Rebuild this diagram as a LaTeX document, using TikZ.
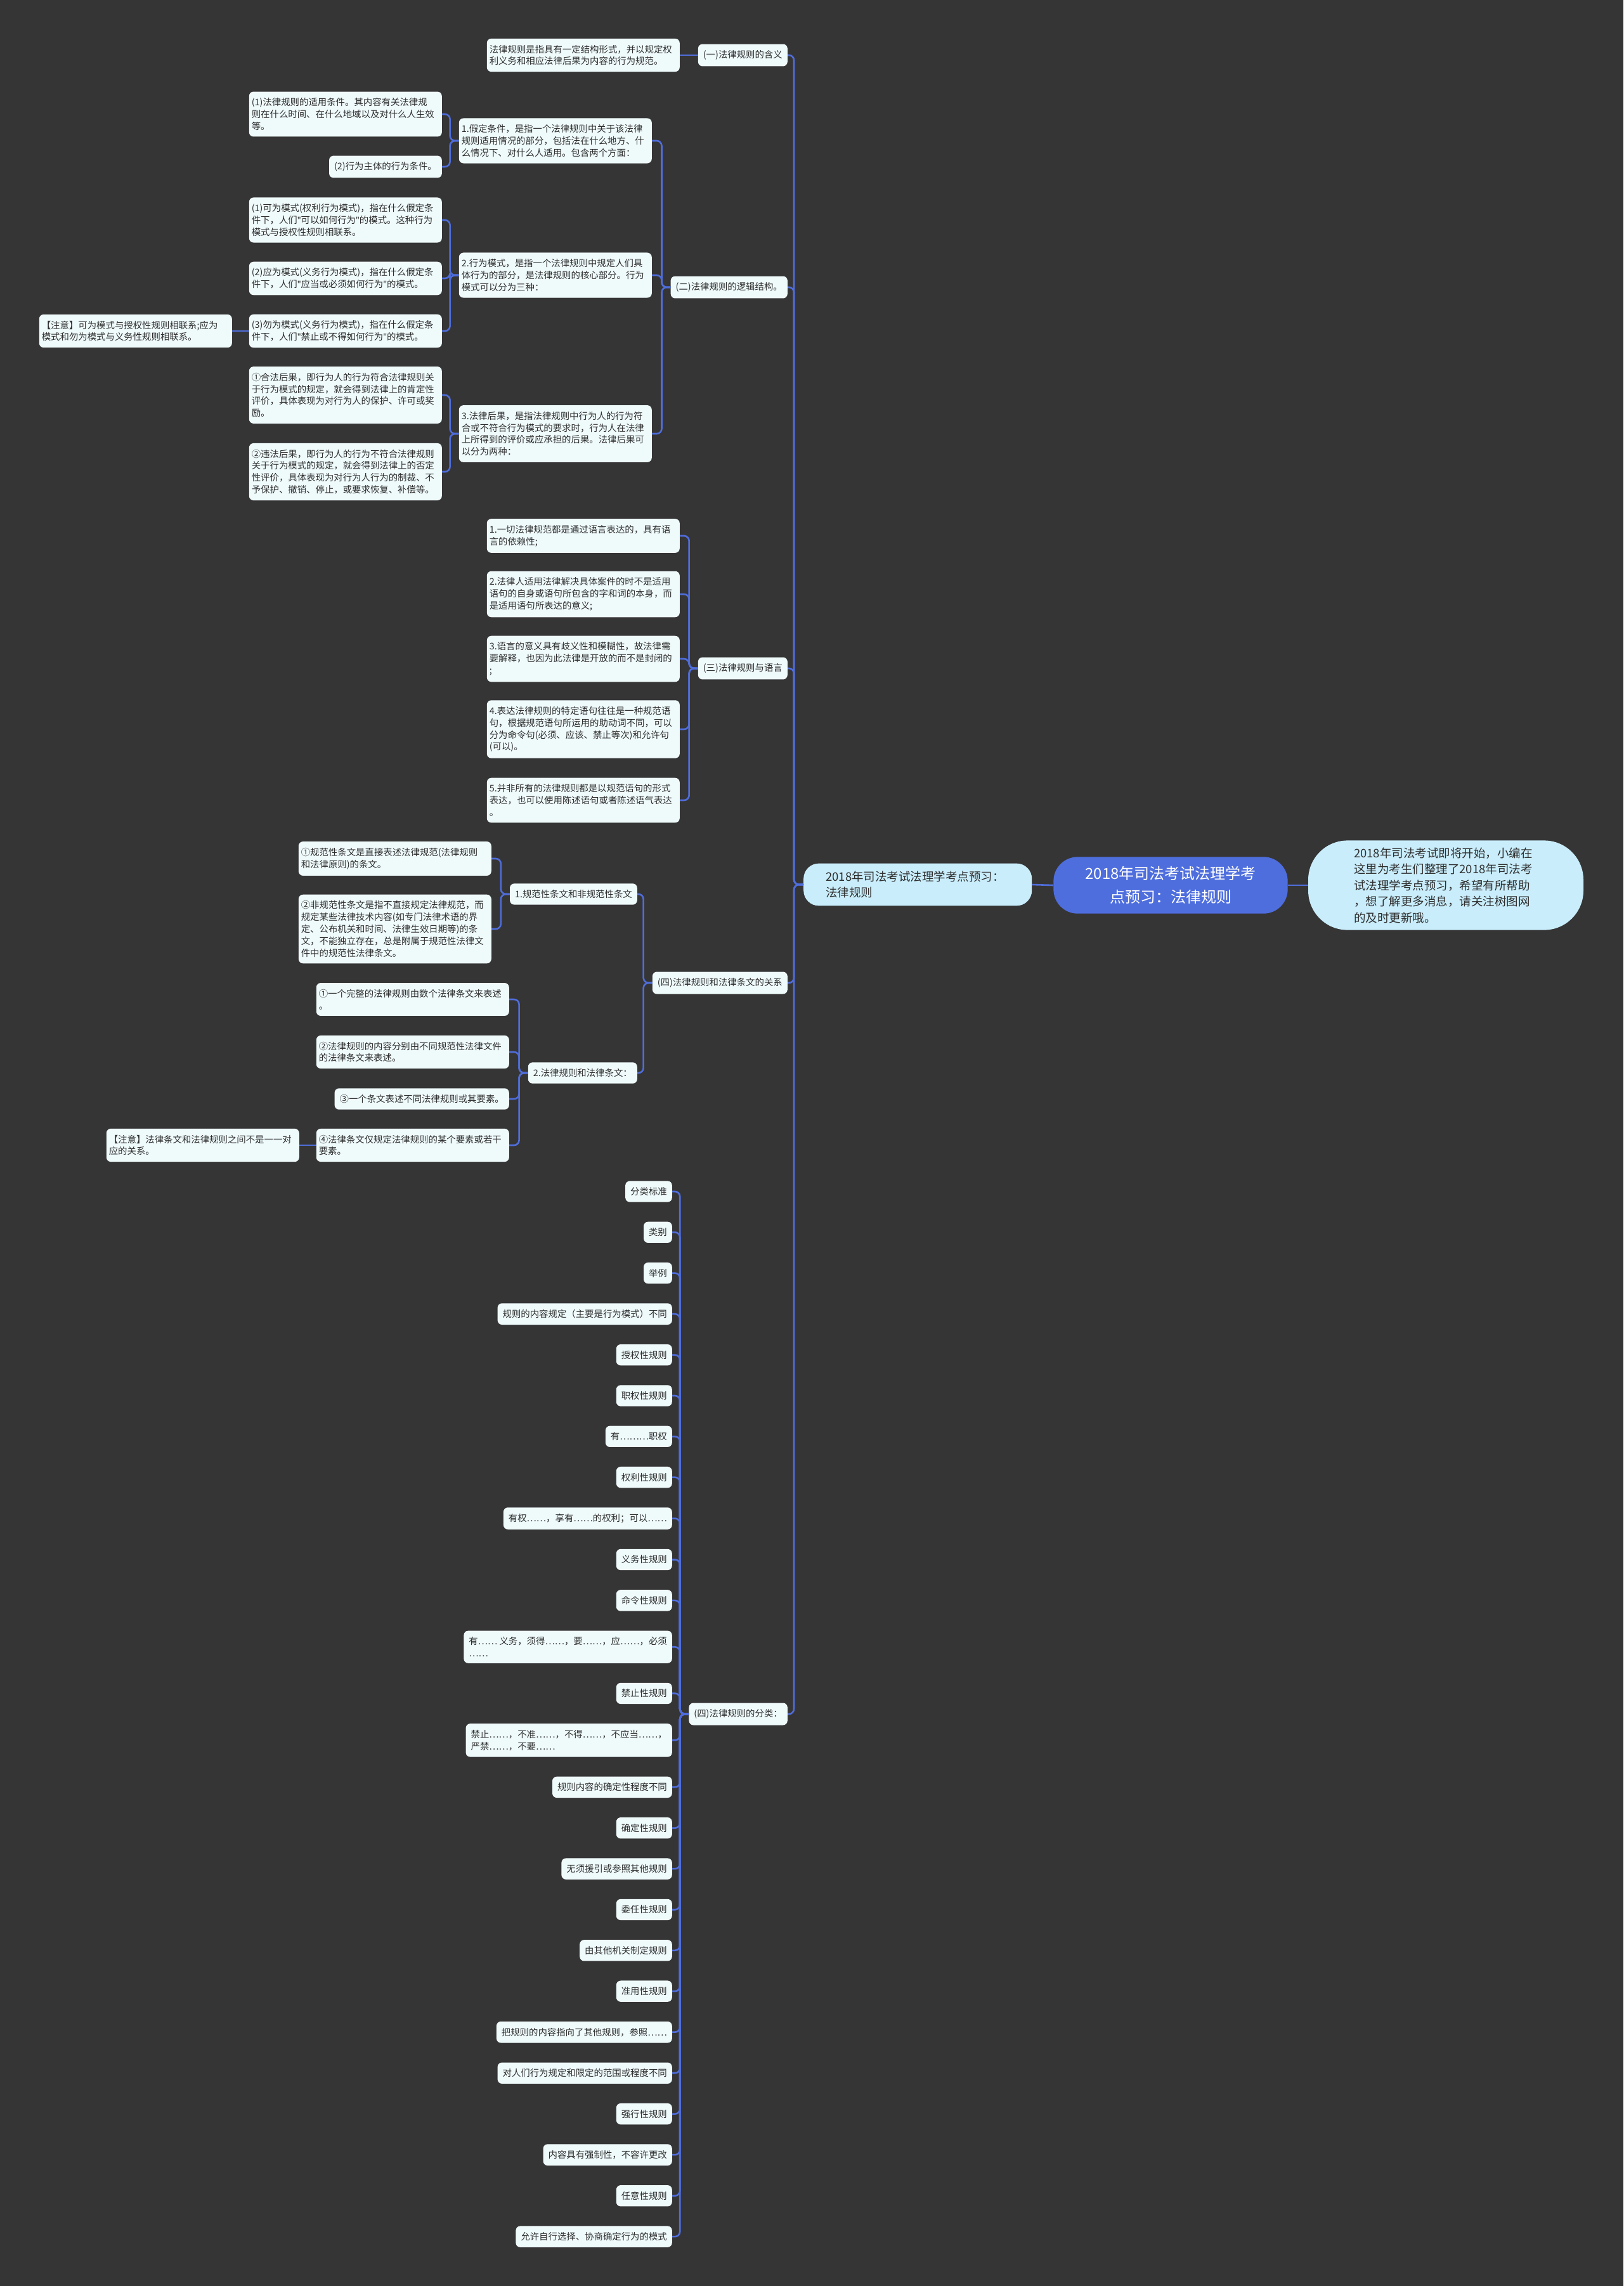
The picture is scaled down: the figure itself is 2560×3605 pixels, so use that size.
\documentclass[tikz,border=0pt]{standalone}
\usepackage{fontspec}
\setmainfont{Noto Sans CJK SC}
\newfontfamily\quotefont{Noto Sans}
\usetikzlibrary{positioning}
\definecolor{Board}{HTML}{363536}
\definecolor{Ice}{HTML}{EFFAFB}
\definecolor{Sky}{HTML}{C9EDFB}
\definecolor{Royal}{HTML}{4E6EDE}
\definecolor{Wire}{HTML}{4F6DDA}
\definecolor{Ink}{HTML}{2E2E2E}

\begin{document}
\begin{tikzpicture}[x=1pt, y=-1pt, node distance=30.6pt,
    leaf/.style={fill=Ice, text=Ink, rounded corners=7pt, inner xsep=8pt, inner ysep=10pt, align=left, font=\fontsize{14.4}{18.8}\selectfont},
    para/.style={leaf, text width=296pt, inner xsep=4pt},
    link/.style={draw=Wire, line width=2.6pt, rounded corners=8pt}]
    \fill[Board] (0,0) rectangle (2560,3605);

    \node[fill=Royal, text=white, rounded corners=38pt, align=center, inner xsep=50pt, inner ysep=15pt, font=\fontsize{24}{37}\selectfont] (root) at (1846,1396) {2018年司法考试法理学考\\点预习：法律规则};
    \node[fill=Sky, text=Ink, rounded corners=24pt, text width=290pt, align=left, inner xsep=35pt, inner ysep=12pt, font=\fontsize{18.5}{25.5}\selectfont, anchor=west] (sub) at (1267,1395) {2018年司法考试法理学考点预习：\\法律规则};
    \node[fill=Sky, text=Ink, rounded corners=62pt, text width=290pt, align=left, inner xsep=72pt, inner ysep=11pt, font=\fontsize{18.5}{25.5}\selectfont] (note) at (2280,1396) {2018年司法考试即将开始，小编在\\这里为考生们整理了2018年司法考\\试法理学考点预习，希望有所帮助\\，想了解更多消息，请关注树图网\\的及时更新哦。};

    \node[leaf, anchor=east] (def) at (1242,87) {(一)法律规则的含义};
    \node[leaf, anchor=east] (logic) at (1242,453) {(二)法律规则的逻辑结构。};
    \node[leaf, anchor=east] (lang) at (1242,1054) {(三)法律规则与语言};
    \node[leaf, anchor=east] (art) at (1242,1550) {(四)法律规则和法律条文的关系};
    \node[leaf, anchor=east] (kind) at (1242,2703) {(四)法律规则的分类：};

    \node[para, anchor=east] (def1) at (1072,87) {法律规则是指具有一定结构形式，并以规定权\\利义务和相应法律后果为内容的行为规范。};

    \node[para, anchor=east] (logic1) at (1028,222) {1.假定条件，是指一个法律规则中关于该法律\\规则适用情况的部分，包括法在什么地方、什\\么情况下、对什么人适用。包含两个方面：};
    \node[para, anchor=east] (logic1a) at (697,180) {(1)法律规则的适用条件。其内容有关法律规\\则在什么时间、在什么地域以及对什么人生效\\等。};
    \node[leaf, anchor=east] (logic1b) at (697,263) {(2)行为主体的行为条件。};
    \node[para, anchor=east] (logic2) at (1028,434) {2.行为模式，是指一个法律规则中规定人们具\\体行为的部分，是法律规则的核心部分。行为\\模式可以分为三种：};
    \node[para, anchor=east] (logic2a) at (697,347) {(1)可为模式(权利行为模式)，指在什么假定条\\件下，人们{\quotefont"}可以如何行为{\quotefont"}的模式。这种行为\\模式与授权性规则相联系。};
    \node[para, anchor=east] (logic2b) at (697,439) {(2)应为模式(义务行为模式)，指在什么假定条\\件下，人们{\quotefont"}应当或必须如何行为{\quotefont"}的模式。};
    \node[para, anchor=east] (logic2c) at (697,522) {(3)勿为模式(义务行为模式)，指在什么假定条\\件下，人们{\quotefont"}禁止或不得如何行为{\quotefont"}的模式。};
    \node[para, anchor=east] (logic2n) at (366,522) {【注意】可为模式与授权性规则相联系;应为\\模式和勿为模式与义务性规则相联系。};
    \node[para, anchor=east] (logic3) at (1028,684) {3.法律后果，是指法律规则中行为人的行为符\\合或不符合行为模式的要求时，行为人在法律\\上所得到的评价或应承担的后果。法律后果可\\以分为两种：};
    \node[para, anchor=east] (logic3a) at (697,623) {①合法后果，即行为人的行为符合法律规则关\\于行为模式的规定，就会得到法律上的肯定性\\评价，具体表现为对行为人的保护、许可或奖\\励。};
    \node[para, anchor=east] (logic3b) at (697,744) {②违法后果，即行为人的行为不符合法律规则\\关于行为模式的规定，就会得到法律上的否定\\性评价，具体表现为对行为人行为的制裁、不\\予保护、撤销、停止，或要求恢复、补偿等。};

    \node[para, anchor=east] (lang1) at (1072,845) {1.一切法律规范都是通过语言表达的，具有语\\言的依赖性;};
    \node[para, anchor=east] (lang2) at (1072,937) {2.法律人适用法律解决具体案件的时不是适用\\语句的自身或语句所包含的字和词的本身，而\\是适用语句所表达的意义;};
    \node[para, anchor=east] (lang3) at (1072,1039) {3.语言的意义具有歧义性和模糊性，故法律需\\要解释，也因为此法律是开放的而不是封闭的\\;};
    \node[para, anchor=east] (lang4) at (1072,1150) {4.表达法律规则的特定语句往往是一种规范语\\句，根据规范语句所运用的助动词不同，可以\\分为命令句(必须、应该、禁止等次)和允许句\\(可以)。};
    \node[para, anchor=east] (lang5) at (1072,1262) {5.并非所有的法律规则都是以规范语句的形式\\表达，也可以使用陈述语句或者陈述语气表达\\。};

    \node[leaf, anchor=east] (art1) at (1005,1410) {1.规范性条文和非规范性条文};
    \node[para, anchor=east] (art1a) at (775,1354) {①规范性条文是直接表述法律规范(法律规则\\和法律原则)的条文。};
    \node[para, anchor=east] (art1b) at (775,1465) {②非规范性条文是指不直接规定法律规范，而\\规定某些法律技术内容(如专门法律术语的界\\定、公布机关和时间、法律生效日期等)的条\\文，不能独立存在，总是附属于规范性法律文\\件中的规范性法律条文。};
    \node[leaf, anchor=east] (art2) at (1005,1692) {2.法律规则和法律条文：};
    \node[para, anchor=east] (art2a) at (803,1576) {①一个完整的法律规则由数个法律条文来表述\\。};
    \node[para, anchor=east] (art2b) at (803,1659) {②法律规则的内容分别由不同规范性法律文件\\的法律条文来表述。};
    \node[leaf, anchor=east] (art2c) at (803,1733) {③一个条文表述不同法律规则或其要素。};
    \node[para, anchor=east] (art2d) at (803,1806) {④法律条文仅规定法律规则的某个要素或若干\\要素。};
    \node[para, anchor=east] (art2n) at (472,1806) {【注意】法律条文和法律规则之间不是一一对\\应的关系。};

    \node[leaf, anchor=east] (k1) at (1060,1879) {分类标准};
    \node[leaf, below=of k1.south east, anchor=north east] (k2) {类别};
    \node[leaf, below=of k2.south east, anchor=north east] (k3) {举例};
    \node[leaf, below=of k3.south east, anchor=north east] (k4) {规则的内容规定（主要是行为模式）不同};
    \node[leaf, below=of k4.south east, anchor=north east] (k5) {授权性规则};
    \node[leaf, below=of k5.south east, anchor=north east] (k6) {职权性规则};
    \node[leaf, below=of k6.south east, anchor=north east] (k7) {有………职权};
    \node[leaf, below=of k7.south east, anchor=north east] (k8) {权利性规则};
    \node[leaf, below=of k8.south east, anchor=north east] (k9) {有权……，享有……的权利；可以……};
    \node[leaf, below=of k9.south east, anchor=north east] (k10) {义务性规则};
    \node[leaf, below=of k10.south east, anchor=north east] (k11) {命令性规则};
    \node[leaf, below=of k11.south east, anchor=north east] (k12) {有…… 义务，须得……，要……，应……，必须\\……};
    \node[leaf, below=of k12.south east, anchor=north east] (k13) {禁止性规则};
    \node[leaf, below=of k13.south east, anchor=north east] (k14) {禁止……，不准……，不得……，不应当……，\\严禁……，不要……};
    \node[leaf, below=of k14.south east, anchor=north east] (k15) {规则内容的确定性程度不同};
    \node[leaf, below=of k15.south east, anchor=north east] (k16) {确定性规则};
    \node[leaf, below=of k16.south east, anchor=north east] (k17) {无须援引或参照其他规则};
    \node[leaf, below=of k17.south east, anchor=north east] (k18) {委任性规则};
    \node[leaf, below=of k18.south east, anchor=north east] (k19) {由其他机关制定规则};
    \node[leaf, below=of k19.south east, anchor=north east] (k20) {准用性规则};
    \node[leaf, below=of k20.south east, anchor=north east] (k21) {把规则的内容指向了其他规则，参照……};
    \node[leaf, below=of k21.south east, anchor=north east] (k22) {对人们行为规定和限定的范围或程度不同};
    \node[leaf, below=of k22.south east, anchor=north east] (k23) {强行性规则};
    \node[leaf, below=of k23.south east, anchor=north east] (k24) {内容具有强制性，不容许更改};
    \node[leaf, below=of k24.south east, anchor=north east] (k25) {任意性规则};
    \node[leaf, below=of k25.south east, anchor=north east] (k26) {允许自行选择、协商确定行为的模式};

    \draw[link] (root.west) -- (sub.east);
    \draw[link] (root.east) -- (note.west);
    \draw[link] (sub.west) -- ++(-15,0) |- (def.east);
    \draw[link] (sub.west) -- ++(-15,0) |- (logic.east);
    \draw[link] (sub.west) -- ++(-15,0) |- (lang.east);
    \draw[link] (sub.west) -- ++(-15,0) |- (art.east);
    \draw[link] (sub.west) -- ++(-15,0) |- (kind.east);

    \draw[link] (def.west) -- (def1.east);
    \draw[link] (logic.west) -- ++(-14,0) |- (logic1.east);
    \draw[link] (logic.west) -- ++(-14,0) |- (logic2.east);
    \draw[link] (logic.west) -- ++(-14,0) |- (logic3.east);
    \draw[link] (logic1.west) -- ++(-14,0) |- (logic1a.east);
    \draw[link] (logic1.west) -- ++(-14,0) |- (logic1b.east);
    \draw[link] (logic2.west) -- ++(-14,0) |- (logic2a.east);
    \draw[link] (logic2.west) -- ++(-14,0) |- (logic2b.east);
    \draw[link] (logic2.west) -- ++(-14,0) |- (logic2c.east);
    \draw[link] (logic2c.west) -- (logic2n.east);
    \draw[link] (logic3.west) -- ++(-14,0) |- (logic3a.east);
    \draw[link] (logic3.west) -- ++(-14,0) |- (logic3b.east);

    \draw[link] (lang.west) -- ++(-14,0) |- (lang1.east);
    \draw[link] (lang.west) -- ++(-14,0) |- (lang2.east);
    \draw[link] (lang.west) -- ++(-14,0) |- (lang3.east);
    \draw[link] (lang.west) -- ++(-14,0) |- (lang4.east);
    \draw[link] (lang.west) -- ++(-14,0) |- (lang5.east);

    \draw[link] (art.west) -- ++(-14,0) |- (art1.east);
    \draw[link] (art.west) -- ++(-14,0) |- (art2.east);
    \draw[link] (art1.west) -- ++(-14,0) |- (art1a.east);
    \draw[link] (art1.west) -- ++(-14,0) |- (art1b.east);
    \draw[link] (art2.west) -- ++(-14,0) |- (art2a.east);
    \draw[link] (art2.west) -- ++(-14,0) |- (art2b.east);
    \draw[link] (art2.west) -- ++(-14,0) |- (art2c.east);
    \draw[link] (art2.west) -- ++(-14,0) |- (art2d.east);
    \draw[link] (art2d.west) -- (art2n.east);

    \draw[link] (kind.west) -- ++(-14,0) |- (k1.east);
    \draw[link] (kind.west) -- ++(-14,0) |- (k2.east);
    \draw[link] (kind.west) -- ++(-14,0) |- (k3.east);
    \draw[link] (kind.west) -- ++(-14,0) |- (k4.east);
    \draw[link] (kind.west) -- ++(-14,0) |- (k5.east);
    \draw[link] (kind.west) -- ++(-14,0) |- (k6.east);
    \draw[link] (kind.west) -- ++(-14,0) |- (k7.east);
    \draw[link] (kind.west) -- ++(-14,0) |- (k8.east);
    \draw[link] (kind.west) -- ++(-14,0) |- (k9.east);
    \draw[link] (kind.west) -- ++(-14,0) |- (k10.east);
    \draw[link] (kind.west) -- ++(-14,0) |- (k11.east);
    \draw[link] (kind.west) -- ++(-14,0) |- (k12.east);
    \draw[link] (kind.west) -- ++(-14,0) |- (k13.east);
    \draw[link] (kind.west) -- ++(-14,0) |- (k14.east);
    \draw[link] (kind.west) -- ++(-14,0) |- (k15.east);
    \draw[link] (kind.west) -- ++(-14,0) |- (k16.east);
    \draw[link] (kind.west) -- ++(-14,0) |- (k17.east);
    \draw[link] (kind.west) -- ++(-14,0) |- (k18.east);
    \draw[link] (kind.west) -- ++(-14,0) |- (k19.east);
    \draw[link] (kind.west) -- ++(-14,0) |- (k20.east);
    \draw[link] (kind.west) -- ++(-14,0) |- (k21.east);
    \draw[link] (kind.west) -- ++(-14,0) |- (k22.east);
    \draw[link] (kind.west) -- ++(-14,0) |- (k23.east);
    \draw[link] (kind.west) -- ++(-14,0) |- (k24.east);
    \draw[link] (kind.west) -- ++(-14,0) |- (k25.east);
    \draw[link] (kind.west) -- ++(-14,0) |- (k26.east);
\end{tikzpicture}
\end{document}
